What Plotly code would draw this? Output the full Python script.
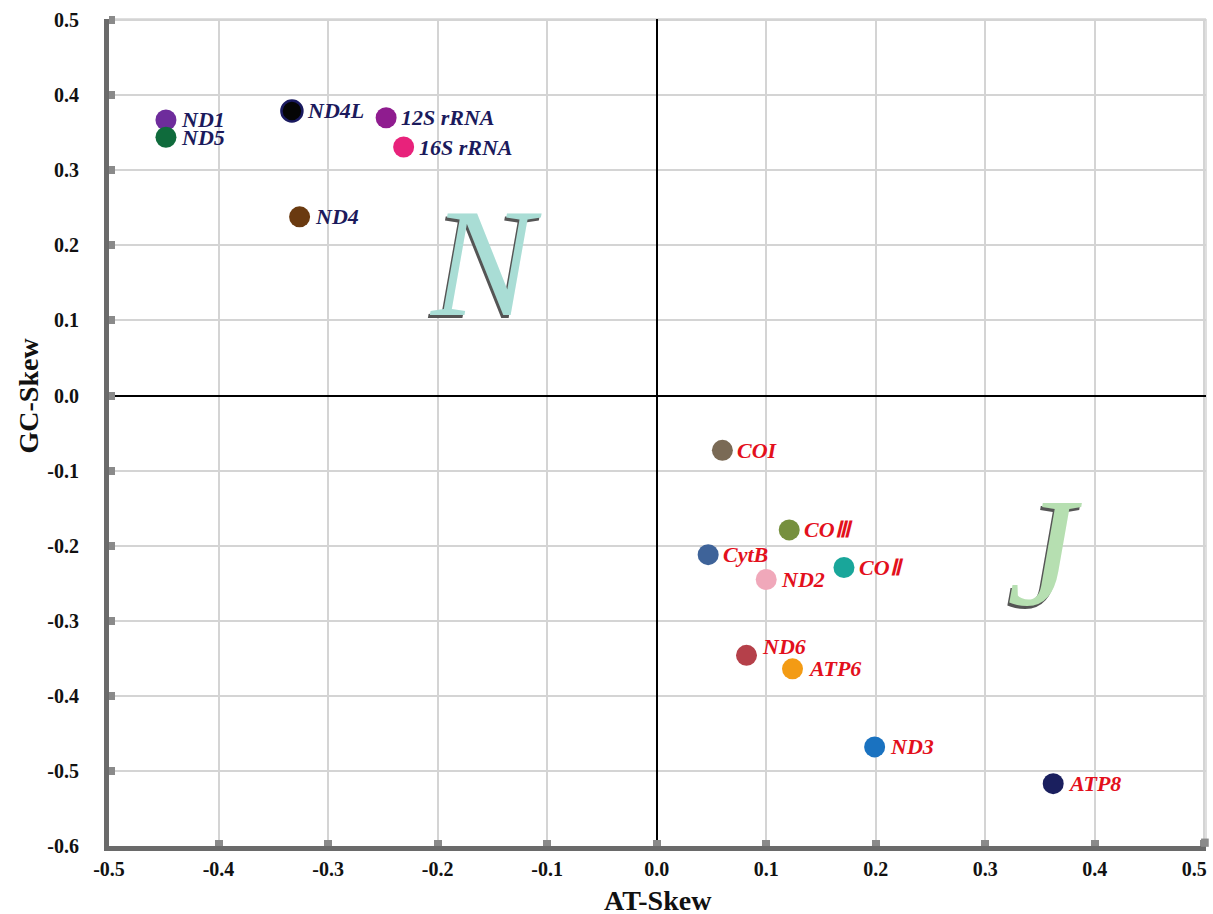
import plotly.graph_objects as go

genes = ["ND1", "ND5", "ND4L", "12S rRNA", "16S rRNA", "ND4",
         "COI", "COⅢ", "CytB", "COⅡ", "ND2", "ND6", "ATP6", "ND3", "ATP8"]
at_skew = [-0.448, -0.448, -0.333, -0.247, -0.231, -0.326,
           0.060, 0.121, 0.047, 0.171, 0.100, 0.082, 0.124, 0.199, 0.362]
gc_skew = [0.367, 0.344, 0.379, 0.370, 0.331, 0.238,
           -0.073, -0.179, -0.212, -0.229, -0.245, -0.346, -0.364, -0.468, -0.517]
strand = ["N"] * 6 + ["J"] * 9
colors = ["#6e2c9c", "#0f6b3c", "#050505", "#8f1c8f", "#e8227b", "#6a3a10",
          "#7a6a55", "#76903e", "#3e6399", "#19a69a", "#f0a8ba", "#b5404a",
          "#f39b14", "#1a72c0", "#1a1f5e"]
label_dy = [0, 0, 0, 0, 0, 0, 0, 0, 0, 0, 0, 9, 0, 0, 0]

x_ticks = [-0.5, -0.4, -0.3, -0.2, -0.1, 0.0, 0.1, 0.2, 0.3, 0.4, 0.5]
x_ticktext = ["-0.5", "-0.4", "-0.3", "-0.2", "-0.1", "0.0", "0.1", "0.2", "0.3", "0.4", "0.5"]
y_ticks = [0.5, 0.4, 0.3, 0.2, 0.1, 0.0, -0.1, -0.2, -0.3, -0.4, -0.5, -0.6]
y_ticktext = ["0.5", "0.4", "0.3", "0.2", "0.1", "0.0", "-0.1", "-0.2", "-0.3", "-0.4", "-0.5", "-0.6"]

FONT = "Times New Roman, Liberation Serif, serif"
label_color = {"N": "#1b1a5c", "J": "#e3101c"}
GRID = "#d4d4d4"

# last x label nudged left (as in the reference) by padding with spaces
x_labels_shown = x_ticktext[:-1] + [x_ticktext[-1] + "\u2002\u2002"]

fig = go.Figure()
fig.add_trace(go.Scatter(
    x=at_skew, y=gc_skew, mode="markers",
    marker=dict(size=21, color=colors,
                line=dict(width=[0, 0, 2.5] + [0] * 12, color="#1a1a60")),
    showlegend=False, hoverinfo="text", text=genes, cliponaxis=False,
))

annotations = []
for g, xv, yv, s, dy in zip(genes, at_skew, gc_skew, strand, label_dy):
    annotations.append(dict(
        x=xv, y=yv, xref="x", yref="y", text=f"<b><i>{g}</i></b>",
        showarrow=False, xanchor="left", yanchor="middle", xshift=13, yshift=dy,
        font=dict(family=FONT, size=22, color=label_color[s]),
    ))

# big strand letters with shadow
for txt, xv, yv, col in [("N", -0.156, 0.176, "#a9ddd5"), ("J", 0.354, -0.209, "#b6dfb1")]:
    annotations.append(dict(x=xv, y=yv, xref="x", yref="y", text=f"<i>{txt}</i>",
                            showarrow=False, xshift=-2, yshift=-3,
                            font=dict(family=FONT, size=155, color="#555555")))
    annotations.append(dict(x=xv, y=yv, xref="x", yref="y", text=f"<i>{txt}</i>",
                            showarrow=False,
                            font=dict(family=FONT, size=155, color=col)))

# axis titles
annotations.append(dict(x=0.5, y=0, xref="paper", yref="paper", text="<b>AT-Skew</b>",
                        showarrow=False, xanchor="center", yanchor="middle", yshift=-54,
                        font=dict(family=FONT, size=28, color="#111111")))
annotations.append(dict(x=0, y=0, xref="paper", yref="y", text="<b>GC-Skew</b>",
                        showarrow=False, xanchor="center", yanchor="middle", xshift=-80,
                        textangle=-90,
                        font=dict(family=FONT, size=28, color="#111111")))

shapes = [
    dict(type="line", xref="paper", yref="paper", x0=0, x1=1, y0=1, y1=1,
         line=dict(color=GRID, width=1.5), layer="below"),
    dict(type="line", xref="paper", yref="paper", x0=1, x1=1, y0=0, y1=1,
         line=dict(color=GRID, width=1.5), layer="below"),
    dict(type="rect", xref="paper", yref="paper", x0=0.9955, x1=1.0025, y0=-0.001, y1=0.009,
         line=dict(width=0), fillcolor="#8a8a8a", layer="above"),
]

fig.update_layout(
    width=1213, height=914,
    margin=dict(l=109, r=7, t=19, b=68),
    paper_bgcolor="white", plot_bgcolor="white",
    annotations=annotations, shapes=shapes,
    font=dict(family=FONT, color="#111111"),
    xaxis=dict(
        range=[-0.5, 0.5015], tickvals=x_ticks, ticktext=x_labels_shown, automargin=False,
        showgrid=True, gridcolor=GRID, gridwidth=1.5,
        zeroline=True, zerolinecolor="#000000", zerolinewidth=1.5,
        showline=True, linecolor="#6a6a6a", linewidth=5,
        ticks="inside", ticklen=6, tickwidth=8, tickcolor="#8a8a8a",
        tickfont=dict(family=FONT, size=20, color="#111111", weight="bold"),
        ticklabelstandoff=1, ticklabeloverflow="allow",
    ),
    yaxis=dict(
        range=[-0.6, 0.5015], tickvals=y_ticks, ticktext=y_ticktext, automargin=False,
        showgrid=True, gridcolor=GRID, gridwidth=1.5,
        zeroline=True, zerolinecolor="#000000", zerolinewidth=1.5,
        showline=True, linecolor="#6a6a6a", linewidth=5,
        ticks="inside", ticklen=6, tickwidth=8, tickcolor="#8a8a8a",
        tickfont=dict(family=FONT, size=20, color="#111111", weight="bold"),
        ticklabelstandoff=21, ticklabeloverflow="allow",
    ),
)

fig.write_html(
    "out.html",
    config={"displayModeBar": False},
    post_script="document.body.style.margin='0';document.body.style.padding='0';"
                "document.documentElement.style.overflow='hidden';",
)
